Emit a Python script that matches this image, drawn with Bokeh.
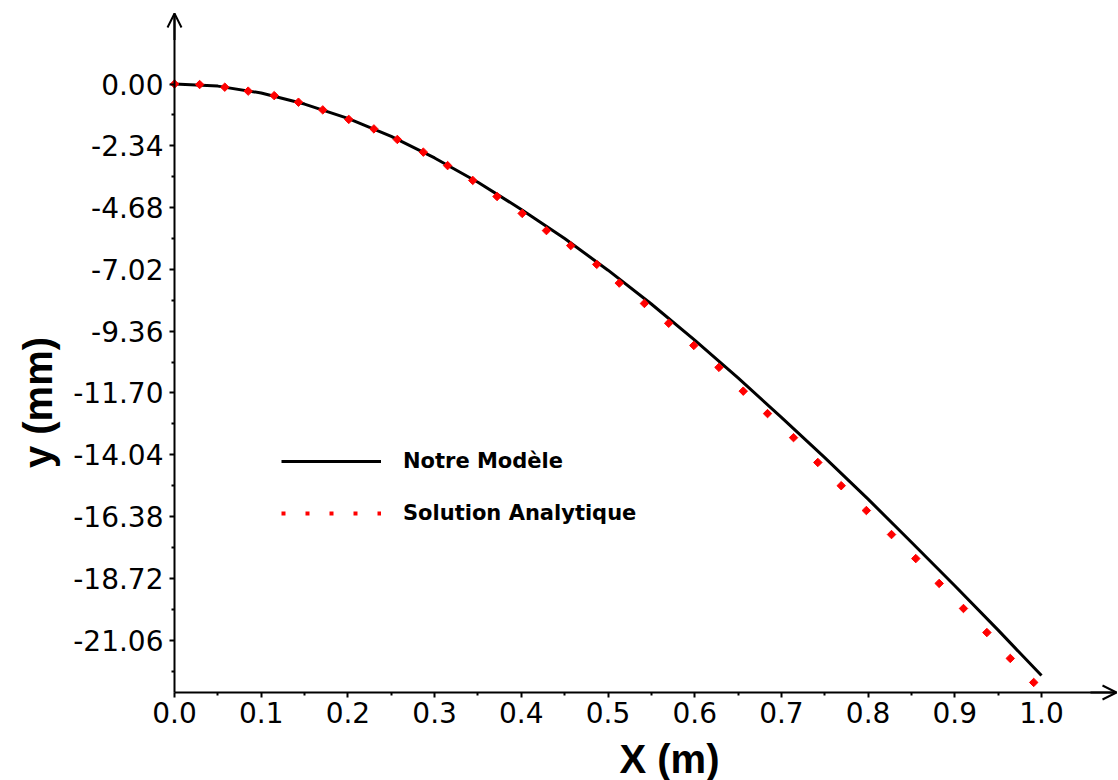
import math
from bokeh.plotting import figure
from bokeh.models import (Range1d, FixedTicker, Arrow, OpenHead, Legend, LegendItem,
                          Label, ColumnDataSource)
from bokeh.embed import file_html
from bokeh.resources import INLINE

# ---------------- data ----------------
# "Notre Modèle" (black line)
model_x = [0.00, 0.05, 0.10, 0.15, 0.20, 0.25, 0.30, 0.35, 0.40, 0.45, 0.50,
           0.55, 0.60, 0.65, 0.70, 0.75, 0.80, 0.85, 0.90, 0.95, 1.00]
model_y = [0.00, -0.08, -0.34, -0.76, -1.30, -1.98, -2.80, -3.72, -4.75, -5.85, -7.05,
           -8.33, -9.70, -11.13, -12.62, -14.15, -15.72, -17.35, -19.00, -20.68, -22.40]

# "Solution Analytique" (red dots)
analytic_x = [0.000, 0.029, 0.058, 0.085, 0.115, 0.143, 0.171, 0.201, 0.230, 0.257,
              0.287, 0.315, 0.344, 0.372, 0.401, 0.429, 0.457, 0.487, 0.513, 0.542,
              0.570, 0.599, 0.628, 0.656, 0.684, 0.714, 0.742, 0.769, 0.798, 0.827,
              0.855, 0.882, 0.910, 0.937, 0.964, 0.991]
analytic_y = [0.00, -0.02, -0.12, -0.27, -0.44, -0.69, -0.98, -1.34, -1.70, -2.10,
              -2.58, -3.09, -3.65, -4.26, -4.90, -5.55, -6.12, -6.83, -7.54, -8.31,
              -9.06, -9.90, -10.73, -11.63, -12.48, -13.39, -14.33, -15.21, -16.15, -17.06,
              -17.97, -18.91, -19.86, -20.77, -21.75, -22.66]

x_ticks = [0.0, 0.1, 0.2, 0.3, 0.4, 0.5, 0.6, 0.7, 0.8, 0.9, 1.0]
x_tick_labels = ["0.0", "0.1", "0.2", "0.3", "0.4", "0.5", "0.6", "0.7", "0.8", "0.9", "1.0"]
y_ticks = [0.00, -2.34, -4.68, -7.02, -9.36, -11.70, -14.04, -16.38, -18.72, -21.06]
y_tick_labels = ["0.00", "-2.34", "-4.68", "-7.02", "-9.36", "-11.70", "-14.04",
                 "-16.38", "-18.72", "-21.06"]

series_names = ["Notre Modèle", "Solution Analytique"]
x_title = "X (m)"
y_title = "y (mm)"

# ---------------- figure ----------------
W, H = 1118, 780
X0_PX, PX_PER_X = 174.0, 867.0       # canvas x of x=0, px per unit
Y0_PX, PX_PER_Y = 83.5, 26.41        # canvas y of y=0, px per mm
X_START, X_END = -X0_PX / PX_PER_X, (W - X0_PX) / PX_PER_X
Y_END, Y_START = Y0_PX / PX_PER_Y, -(H - Y0_PX) / PX_PER_Y
X_AXIS_Y = -(692 - Y0_PX) / PX_PER_Y      # where the x axis crosses
X_TIP = (1116 - X0_PX) / PX_PER_X
Y_TIP = (Y0_PX - 13) / PX_PER_Y

TICK_FONT = "DejaVu Sans"
TITLE_FONT = "Liberation Sans"

p = figure(width=W, height=H, x_range=Range1d(X_START, X_END), y_range=Range1d(Y_START, Y_END),
           output_backend="svg", toolbar_location=None,
           min_border_left=0, min_border_right=0, min_border_top=0, min_border_bottom=0)
p.outline_line_color = None
p.xgrid.visible = False
p.ygrid.visible = False
p.background_fill_color = "white"
p.border_fill_color = "white"

x_minor = [(a + b) / 2 for a, b in zip(x_ticks[:-1], x_ticks[1:])]
y_minor = [t - 1.17 for t in y_ticks]

for ax, ticks, minor, labels in ((p.xaxis[0], x_ticks, x_minor, x_tick_labels),
                                 (p.yaxis[0], y_ticks, y_minor, y_tick_labels)):
    ax.ticker = FixedTicker(ticks=ticks, minor_ticks=minor)
    ax.major_label_overrides = {t: l for t, l in zip(ticks, labels)}
    ax.axis_line_width = 2
    ax.axis_line_color = "black"
    ax.major_tick_line_width = 2
    ax.minor_tick_line_width = 2
    ax.major_tick_in = 0
    ax.major_tick_out = 5
    ax.minor_tick_in = 0
    ax.minor_tick_out = 3
    ax.major_label_text_font = TICK_FONT
    ax.major_label_text_font_size = "28px"
    ax.major_label_text_font_style = "normal"
    ax.major_label_text_color = "black"

p.yaxis[0].fixed_location = 0
p.yaxis[0].bounds = (X_AXIS_Y, Y_TIP)
p.yaxis[0].major_label_standoff = 6
p.xaxis[0].fixed_location = X_AXIS_Y
p.xaxis[0].bounds = (0, X_TIP)
p.xaxis[0].major_label_standoff = 4

# arrows at axis ends
p.add_layout(Arrow(end=OpenHead(size=14, line_width=2, line_color="black"),
                   x_start=0, y_start=Y_TIP - 1.0, x_end=0, y_end=Y_TIP,
                   line_width=2, line_color="black"))
p.add_layout(Arrow(end=OpenHead(size=14, line_width=2, line_color="black"),
                   x_start=X_TIP - 0.03, y_start=X_AXIS_Y, x_end=X_TIP, y_end=X_AXIS_Y,
                   line_width=2, line_color="black"))

# series
src_m = ColumnDataSource(dict(x=model_x, y=model_y))
src_a = ColumnDataSource(dict(x=analytic_x, y=analytic_y))
r_model = p.line("x", "y", source=src_m, line_color="black", line_width=3)
r_an = p.scatter("x", "y", source=src_a, marker="square", size=6, angle=math.pi / 4,
                 fill_color="red", line_color="red", line_width=1)
# dotted line used only for the legend sample
r_an_leg = p.line("x", "y", source=src_a, line_color="red", line_width=4,
                  line_dash="4 20", visible=False)

legend = Legend(items=[LegendItem(label=series_names[0], renderers=[r_model]),
                       LegendItem(label=series_names[1], renderers=[r_an_leg])],
                location=(281, 253), orientation="vertical",
                glyph_width=100, glyph_height=28, label_height=28, spacing=24,
                label_standoff=22, padding=0, margin=0,
                border_line_color=None, background_fill_alpha=0,
                inactive_fill_alpha=0,
                label_text_font="DejaVu Sans", label_text_font_size="21px",
                label_text_font_style="bold", label_text_color="black")
p.add_layout(legend, "center")

# axis titles
p.add_layout(Label(x=37, y=H - 402, x_units="screen", y_units="screen", text=y_title,
                   angle=math.pi / 2, text_align="center", text_baseline="middle",
                   text_font=TITLE_FONT, text_font_size="40px", text_font_style="bold",
                   text_color="black"))
p.add_layout(Label(x=669, y=H - 758, x_units="screen", y_units="screen", text=x_title,
                   text_align="center", text_baseline="middle",
                   text_font=TITLE_FONT, text_font_size="40px", text_font_style="bold",
                   text_color="black"))

open("out.html", "w").write(file_html(p, INLINE))
